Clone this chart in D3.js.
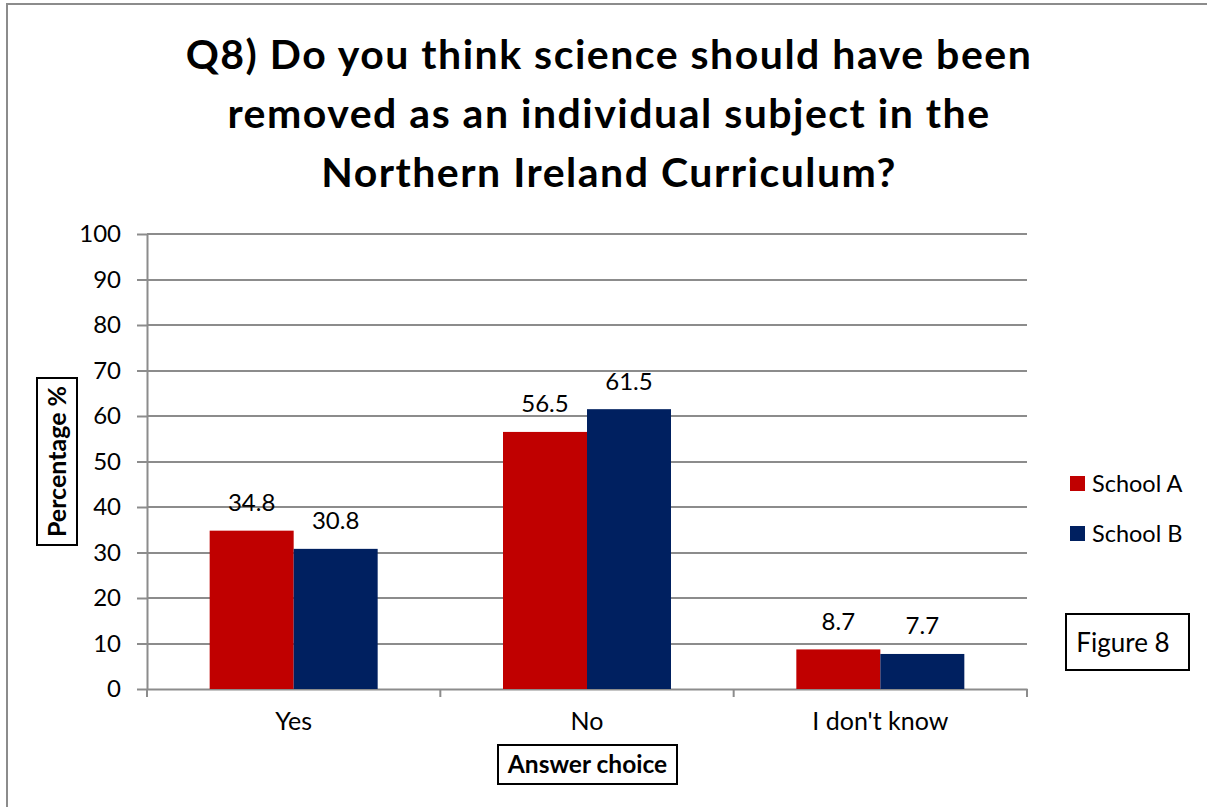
<!DOCTYPE html>
<html>
<head>
<meta charset="utf-8">
<script src="https://cdn.jsdelivr.net/npm/d3@7"></script>
<style>
  html, body { margin: 0; padding: 0; background: #fff; }
  svg { display: block; font-family: Lato, "Open Sans", sans-serif; }
</style>
</head>
<body>
<svg id="chart" width="1207" height="807"></svg>
<script>
// Survey responses (percent) per answer choice
const categories = ["Yes", "No", "I don't know"];
const seriesNames = ["School A", "School B"];
const schoolA = [34.8, 56.5, 8.7];
const schoolB = [30.8, 61.5, 7.7];
const yTicks = [0, 10, 20, 30, 40, 50, 60, 70, 80, 90, 100];
const colors = ["#C00000", "#002060"];
const titleLines = [
  "Q8) Do you think science should have been",
  "removed as an individual subject in the",
  "Northern Ireland Curriculum?"
];

const svg = d3.select("#chart");
const grey = "#8c8c8c";
const font = "Lato, 'Open Sans', sans-serif";

// outer chart frame
svg.append("rect")
  .attr("x", 7).attr("y", 4).attr("width", 1230).attr("height", 830)
  .attr("fill", "none").attr("stroke", grey).attr("stroke-width", 2);

const plot = { left: 147, right: 1027, top: 234, bottom: 689 };

const x0 = d3.scaleBand().domain(categories).range([plot.left, plot.right]).paddingInner(0).paddingOuter(0);
const groupInner = 84 * 2 / x0.bandwidth();
const x1 = d3.scaleBand().domain(seriesNames)
  .range([0, x0.bandwidth()])
  .paddingOuter((1 - groupInner) / groupInner).paddingInner(0);
const y = d3.scaleLinear().domain([0, 100]).range([plot.bottom, plot.top]);

// title
svg.append("g").selectAll("text").data(titleLines).join("text")
  .attr("x", 609).attr("y", (d, i) => 69 + i * 59)
  .attr("text-anchor", "middle")
  .attr("font-weight", "bold").attr("font-size", 41).attr("letter-spacing", 1.5)
  .attr("fill", "#000")
  .text(d => d);

// horizontal gridlines
svg.append("g").selectAll("line").data(yTicks.filter(t => t > 0)).join("line")
  .attr("x1", plot.left).attr("x2", plot.right)
  .attr("y1", d => Math.round(y(d))).attr("y2", d => Math.round(y(d)))
  .attr("stroke", grey).attr("stroke-width", 2);

// y axis
const yAxis = svg.append("g").attr("transform", `translate(${plot.left},0)`)
  .call(d3.axisLeft(y).tickValues(yTicks).tickSize(10).tickPadding(16).tickSizeOuter(0));
yAxis.select(".domain").attr("stroke", grey).attr("stroke-width", 2);
yAxis.selectAll(".tick line").attr("stroke", grey).attr("stroke-width", 2);
yAxis.selectAll(".tick text").attr("font-size", 24).attr("fill", "#000")
  .attr("font-family", font);

// x axis
const xAxis = svg.append("g").attr("transform", `translate(0,${plot.bottom})`)
  .call(d3.axisBottom(x0).tickSize(0).tickPadding(0));
xAxis.select(".domain").attr("stroke", grey).attr("stroke-width", 2);
xAxis.selectAll(".tick text").attr("font-size", 25).attr("fill", "#000")
  .attr("font-family", font).attr("dy", null).attr("y", 41);
// category boundary ticks
const bounds = categories.map(c => x0(c)).concat([plot.right]);
svg.append("g").selectAll("line").data(bounds).join("line")
  .attr("x1", d => d).attr("x2", d => d)
  .attr("y1", plot.bottom).attr("y2", plot.bottom + 8)
  .attr("stroke", grey).attr("stroke-width", 2);

// bars
const rows = categories.map((c, i) => ({ cat: c, values: [schoolA[i], schoolB[i]] }));
const groups = svg.append("g").selectAll("g").data(rows).join("g")
  .attr("transform", d => `translate(${x0(d.cat)},0)`);
groups.selectAll("rect").data(d => d.values.map((v, j) => ({ v, s: seriesNames[j], j }))).join("rect")
  .attr("x", d => x1(d.s)).attr("width", x1.bandwidth())
  .attr("y", d => y(d.v)).attr("height", d => y(0) - y(d.v))
  .attr("fill", d => colors[d.j]);
groups.selectAll("text").data(d => d.values.map((v, j) => ({ v, s: seriesNames[j], j }))).join("text")
  .attr("x", d => x1(d.s) + x1.bandwidth() / 2)
  .attr("y", d => y(d.v) - 19.5)
  .attr("text-anchor", "middle").attr("font-size", 24).attr("fill", "#000")
  .text(d => d.v.toFixed(1));

// legend
const legend = svg.append("g").selectAll("g").data(seriesNames).join("g")
  .attr("transform", (d, i) => `translate(1070,${476 + i * 50})`);
legend.append("rect").attr("width", 15).attr("height", 15).attr("fill", (d, i) => colors[i]);
legend.append("text").attr("x", 22).attr("y", 16).attr("font-size", 23.5).attr("fill", "#000").text(d => d);

// figure label box
svg.append("rect").attr("x", 1066).attr("y", 614).attr("width", 123).attr("height", 56)
  .attr("fill", "#fff").attr("stroke", "#000").attr("stroke-width", 2);
svg.append("text").attr("x", 1123).attr("y", 652).attr("text-anchor", "middle")
  .attr("font-size", 26).attr("fill", "#000").text("Figure 8");

// y axis title
svg.append("rect").attr("x", 37).attr("y", 378).attr("width", 40).attr("height", 167)
  .attr("fill", "#fff").attr("stroke", "#000").attr("stroke-width", 2);
svg.append("text").attr("transform", "translate(66,461.5) rotate(-90)")
  .attr("text-anchor", "middle").attr("font-weight", "bold").attr("font-size", 25)
  .attr("fill", "#000").text("Percentage %");

// x axis title
svg.append("rect").attr("x", 498).attr("y", 745).attr("width", 179).attr("height", 39)
  .attr("fill", "#fff").attr("stroke", "#000").attr("stroke-width", 2);
svg.append("text").attr("x", 587.5).attr("y", 773).attr("text-anchor", "middle")
  .attr("font-weight", "bold").attr("font-size", 24.5).attr("fill", "#000").text("Answer choice");
</script>
</body>
</html>
